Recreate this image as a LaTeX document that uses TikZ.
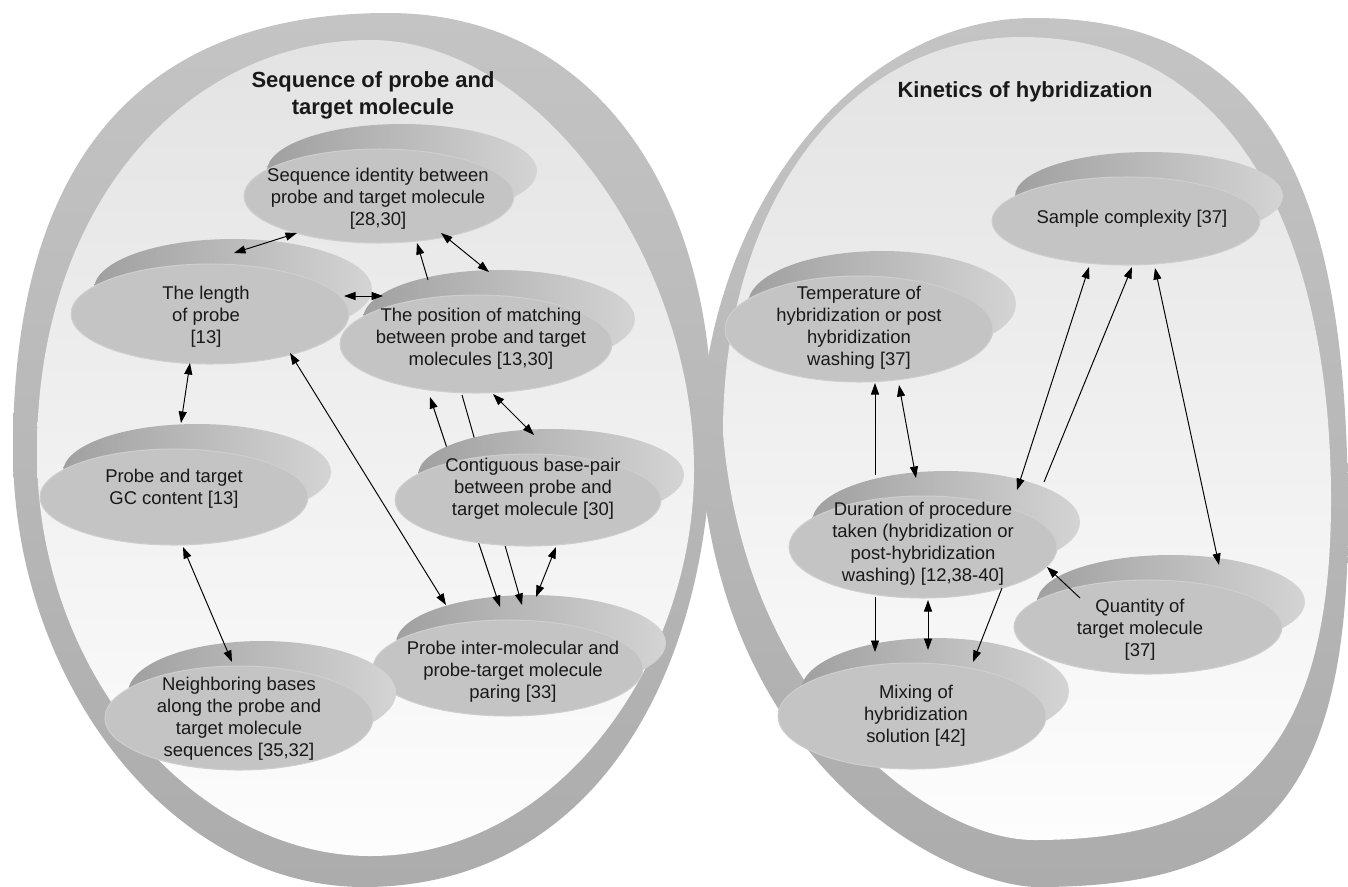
\documentclass[tikz,border=0pt]{standalone}
\usepackage{fontspec}
\setmainfont{Liberation Sans}
\usetikzlibrary{arrows.meta,calc,shapes.geometric}
\pgfdeclarelayer{bg}
\pgfsetlayers{bg,main}
\definecolor{rimL}{RGB}{160,160,160}
\definecolor{rimM}{RGB}{172,172,172}
\definecolor{rimR}{RGB}{212,212,212}
\definecolor{faceC}{RGB}{196,196,196}
\definecolor{faceE}{RGB}{206,206,206}
\definecolor{ringT}{RGB}{196,196,196}
\definecolor{ringM}{RGB}{206,206,206}
\definecolor{ringB}{RGB}{172,172,172}
\definecolor{inT}{RGB}{227,227,227}
\definecolor{inB}{RGB}{253,253,253}
\definecolor{txtC}{RGB}{25,25,25}
\newcommand\mkdisk[7]{%
  \node[rimshape, minimum width=#4*0.04cm, minimum height=#5*0.04cm] (#1r) at ($(#2,#3)+(23,-25)$) {};
  \node[face, minimum width=#4*0.04cm, minimum height=#5*0.04cm] (#1) at (#2,#3) {};
  \node[lbl] (#1t) at ($(#1)+(#6)$) {#7};
}
\begin{document}
\begin{tikzpicture}[x=0.02cm,y=-0.02cm,
  rimshape/.style={ellipse, draw=none, inner sep=0pt, left color=rimL, middle color=rimM, right color=rimR},
  face/.style={ellipse, fill=faceC, draw=faceE, line width=0.6pt, inner sep=0pt},
  lbl/.style={align=center, font=\fontsize{10.5}{12.6}\selectfont, text=txtC, inner sep=0pt},
  heading/.style={align=center, font=\bfseries\fontsize{12.5}{15.3}\selectfont, text=txtC, inner sep=0pt},
  ringband/.style={top color=ringT, middle color=ringM, bottom color=ringB},
  ringin/.style={top color=inT, bottom color=inB},
  link/.style={line width=0.55pt, draw=black},
  both/.style={link, {Triangle[length=2.3mm,width=1.6mm]}-{Triangle[length=2.3mm,width=1.6mm]}},
  one/.style={link, -{Triangle[length=2.3mm,width=1.6mm]}}]
\useasboundingbox (0,0) rectangle (1348,886);
\begin{pgfonlayer}{bg}
\fill[white] (0,0) rectangle (1348,886);
% right ring
\shade[ringband] (1034,18) .. controls (1290,18) and (1348,220) .. (1348,520)
  .. controls (1348,800) and (1260,887) .. (1038,887)
  .. controls (960,887) and (720,780) .. (700,450)
  .. controls (700,220) and (850,18) .. (1034,18) -- cycle;
\shade[ringin] (1021,37) .. controls (1250,37) and (1331,260) .. (1331,500)
  .. controls (1331,760) and (1230,840) .. (1034,840)
  .. controls (930,840) and (745,700) .. (723,433)
  .. controls (723,200) and (850,37) .. (1021,37) -- cycle;
% left ring
\shade[ringband] (388,13) .. controls (600,13) and (712,200) .. (712,420)
  .. controls (712,680) and (590,887) .. (364,887)
  .. controls (170,887) and (13,680) .. (13,450)
  .. controls (13,150) and (150,13) .. (388,13) -- cycle;
\shade[ringin] (370,40) .. controls (540,40) and (694,260) .. (694,470)
  .. controls (694,660) and (560,856) .. (370,856)
  .. controls (200,856) and (37,680) .. (37,452)
  .. controls (37,200) and (190,40) .. (370,40) -- cycle;
\end{pgfonlayer}

\node[heading] (h1) at (373,95) {Sequence of probe and\\target molecule};
\node[heading] (h2) at (1025,92) {Kinetics of hybridization};

% left group
\mkdisk{seq}{379}{196}{135}{47}{-1,3}{Sequence identity between\\probe and target molecule\\{}[28,30]}
\mkdisk{len}{210}{314}{139}{50}{-4,3}{The length\\of probe\\{}[13]}
\mkdisk{pos}{476}{344}{136}{49}{5,-5}{The position of matching\\between probe and target\\molecules [13,30]}
\mkdisk{gc}{174}{497}{134}{48}{0,-8}{Probe and target\\GC content [13]}
\mkdisk{inter}{508}{668}{135}{48}{5,4}{Probe inter-molecular and\\probe-target molecule\\paring [33]}
\mkdisk{nei}{239}{718}{134}{52}{0,1}{Neighboring bases\\along the probe and\\target molecule\\sequences [35,32]}

\draw[both] ($(len)+(24,-61)$) -- ($(seq)+(-82,37)$);
\draw[both] ($(len)+(134,-18)$) -- ($(pos)+(-93,-48)$);
\draw[one] ($(pos)+(-48,-64)$) -- ($(seq)+(38,47)$);
\draw[both] ($(seq)+(62,37)$) -- ($(pos)+(13,-72)$);
\draw[both] ($(len)+(-20,49)$) -- ($(gc)+(7,-74)$);
\draw[both] ($(len)+(80,39)$) -- ($(inter)+(-62,-63)$);
\draw[both] ($(pos)+(-46,53)$) -- ($(inter)+(-8,-61)$);
\draw[one] ($(pos)+(-14,51)$) -- ($(inter)+(14,-63)$);
\draw[both] ($(gc)+(9,50)$) -- ($(nei)+(-7,-56)$);

\mkdisk{cont}{528}{500}{133}{46}{5,-11}{Contiguous base-pair\\between probe and\\target molecule [30]}

\draw[both] ($(pos)+(17,50)$) -- ($(cont)+(6,-65)$);
\draw[both] ($(cont)+(28,47)$) -- ($(inter)+(28,-71)$);

% right group
\mkdisk{samp}{1126}{221}{134}{44}{6,-2}{Sample complexity [37]}
\mkdisk{temp}{859}{329}{134}{53}{0,-1}{Temperature of\\hybridization or post\\hybridization\\washing [37]}
\mkdisk{dur}{923}{547}{134}{51}{0,-3}{Duration of procedure\\taken (hybridization or\\post-hybridization\\washing) [12,38-40]}
\mkdisk{quan}{1148}{627}{134}{47}{-8,3}{Quantity of\\target molecule\\{}[37]}
\mkdisk{mix}{912}{716}{134}{53}{4,0}{Mixing of\\hybridization\\solution [42]}

\draw[one] ($(dur)+(-48,-72)$) -- ($(temp)+(16,54)$);
\draw[both] ($(temp)+(40,56)$) -- ($(dur)+(-7,-69)$);
\draw[both] ($(samp)+(-37,46)$) -- ($(dur)+(94,-57)$);
\draw[one] ($(dur)+(121,-65)$) -- ($(samp)+(6,46)$);
\draw[both] ($(samp)+(29,47)$) -- ($(quan)+(71,-62)$);
\draw[one] ($(quan)+(-68,-29)$) -- ($(dur)+(124,20)$);
\draw[one] ($(dur)+(-48,50)$) -- ($(mix)+(-37,-64)$);
\draw[both] ($(dur)+(5,53)$) -- ($(mix)+(16,-66)$);
\draw[one] ($(dur)+(79,41)$) -- ($(mix)+(61,-54)$);
\end{tikzpicture}
\end{document}
